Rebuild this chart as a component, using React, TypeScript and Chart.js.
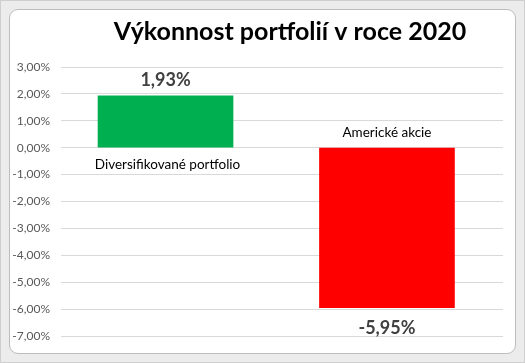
import React, { useEffect, useRef } from "react";
import { Chart, registerables } from "chart.js";

Chart.register(...registerables);

const chartTitle = "Výkonnost portfolií v roce 2020";
const categories = ["Diversifikované portfolio", "Americké akcie"];
const values = [1.93, -5.95];
const barColors = ["#00B050", "#FF0000"];
const yTicks = [3, 2, 1, 0, -1, -2, -3, -4, -5, -6, -7];

const fmt = (v: number) => v.toFixed(2).replace(".", ",") + "%";

const FONT = "Lato, 'Open Sans', sans-serif";

const labelsPlugin = {
  id: "customLabels",
  afterDatasetsDraw(chart: any) {
    const ctx = chart.ctx;
    const meta = chart.getDatasetMeta(0);
    const area = chart.chartArea;
    ctx.save();
    ctx.fillStyle = "#000000";
    ctx.font = `bold 25px ${FONT}`;
    ctx.textAlign = "center";
    ctx.textBaseline = "middle";
    ctx.fillText(chartTitle, (area.left + area.right) / 2 + 8, 32);
    const zeroY = chart.scales.y.getPixelForValue(0);
    meta.data.forEach((bar: any, i: number) => {
      const v = values[i];
      ctx.textAlign = "center";
      ctx.textBaseline = "middle";
      ctx.fillStyle = "#404040";
      ctx.font = `bold 18px ${FONT}`;
      if (v >= 0) {
        ctx.fillText(fmt(v), bar.x, bar.y - 16);
      } else {
        ctx.fillText(fmt(v), bar.x, bar.y + 20);
      }
      ctx.fillStyle = "#000000";
      ctx.font = `13.5px ${FONT}`;
      if (v >= 0) {
        ctx.fillText(categories[i], bar.x + 2, zeroY + 17);
      } else {
        ctx.fillText(categories[i], bar.x, zeroY - 15);
      }
    });
    ctx.restore();
  },
};

export default function App() {
  const ref = useRef<HTMLCanvasElement>(null);
  useEffect(() => {
    document.body.style.margin = "0";
    const chart = new Chart(ref.current!, {
      type: "bar",
      data: {
        labels: categories,
        datasets: [
          {
            data: values.map((v, i) => ({ x: i, y: v })),
            backgroundColor: barColors,
            borderWidth: 0,
            barThickness: 135,
          },
        ],
      },
      plugins: [labelsPlugin],
      options: {
        animation: false,
        responsive: false,
        maintainAspectRatio: false,
        layout: { padding: { top: 67, bottom: 27, right: 22, left: 0 } },
        plugins: {
          legend: { display: false },
          title: { display: false },
          tooltip: { enabled: false },
        },
        scales: {
          x: {
            type: "linear",
            min: -0.472,
            max: 1.524,
            offset: false,
            display: false,
            grid: { display: false, offset: false },
          },
          y: {
            min: -7,
            max: 3,
            afterFit: (scale: any) => {
              scale.width = 61;
            },
            afterBuildTicks: (scale: any) => {
              scale.ticks = yTicks.map((v) => ({ value: v }));
            },
            ticks: {
              padding: 11,
              color: "#595959",
              font: { family: FONT, size: 12 },
              callback: (v: any) => fmt(Number(v)),
            },
            grid: { color: "#d9d9d9", drawTicks: false, lineWidth: 1 },
            border: { display: false },
          },
        },
      },
    });
    return () => chart.destroy();
  }, []);
  return (
    <div
      style={{
        position: "relative",
        width: 525,
        height: 363,
        background: "#ececec",
        boxSizing: "border-box",
        border: "1px solid #cfcfcf",
      }}
    >
      <div
        style={{
          position: "absolute",
          left: 8,
          top: 8,
          right: 8,
          bottom: 8,
          background: "#ffffff",
          border: "1px solid #bdbdbd",
          borderRadius: 9,
        }}
      />
      <canvas
        ref={ref}
        width={525}
        height={363}
        style={{ position: "absolute", left: -1, top: -1, width: 525, height: 363 }}
      />
    </div>
  );
}
